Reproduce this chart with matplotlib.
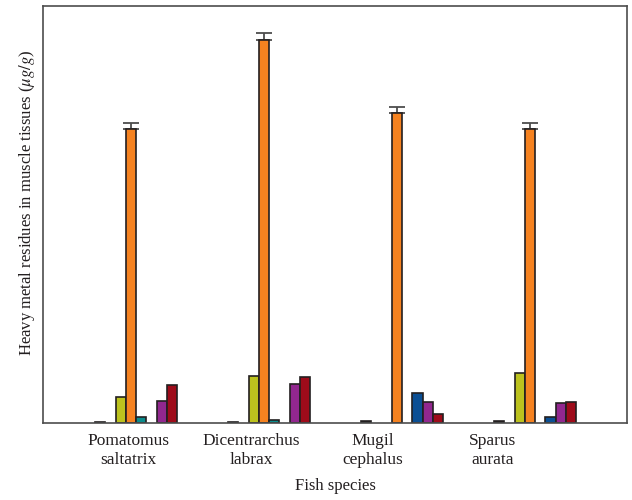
import numpy as np
import matplotlib
matplotlib.use("Agg")
import matplotlib.pyplot as plt

# Datos (unidades aproximadas, eje Y sin marcas)
species = ["Pomatomus\nsaltatrix", "Dicentrarchus\nlabrax", "Mugil\ncephalus", "Sparus\naurata"]
series_names = ["M1", "M2", "M3", "M4", "M5", "M6", "M7", "M8"]
series_colors = ["#231f20", "#808080", "#bcc21e", "#f58220", "#0a8c8c", "#0b4f94", "#92278f", "#9e0b1a"]

m1 = [0.10, 0.10, 0.20, 0.20]
m2 = [np.nan, np.nan, np.nan, np.nan]
m3 = [3.15, 5.67, np.nan, 5.96]
m4 = [35.3, 45.9, 37.2, 35.3]
m4_err = [0.67, 0.92, 0.72, 0.72]
m5 = [0.76, 0.36, np.nan, np.nan]
m6 = [np.nan, np.nan, 3.63, 0.76]
m7 = [2.67, 4.68, 2.52, 2.36]
m8 = [4.52, 5.55, 1.04, 2.48]

valores = [m1, m2, m3, m4, m5, m6, m7, m8]
errores = [None, None, None, m4_err, None, None, None, None]

plt.rcParams["font.family"] = ["Liberation Serif", "DejaVu Serif"]
plt.rcParams["mathtext.fontset"] = "stix"

fig = plt.figure(figsize=(6.32, 5.0), dpi=100)
ax = fig.add_axes([0.068, 0.154, 0.924, 0.834])

x = np.arange(len(species))
ancho = 0.077
n = len(valores)
for i, (vals, err) in enumerate(zip(valores, errores)):
    pos = x + (i - (n - 1) / 2) * ancho
    ax.bar(pos, vals, width=ancho, color=series_colors[i], edgecolor="#231f20",
           linewidth=1.2, label=series_names[i], zorder=2)
    if err is not None:
        ax.errorbar(pos, vals, yerr=[np.zeros(len(err)), err], fmt="none",
                    ecolor="#4d4d4d", elinewidth=1.3, capsize=5.5, capthick=1.3, zorder=1)

ax.set_xlim(-0.70, 3.69)
ax.set_ylim(0, 50)
ax.set_yticks([])

# las etiquetas del original no estan centradas en los grupos
ax.set_xticks([-0.06, 0.865, 1.78, 2.68])
ax.set_xticklabels(species, fontsize=12.5, color="#231f20", linespacing=1.3)
ax.tick_params(axis="x", length=0, pad=7)

for s in ax.spines.values():
    s.set_color("#4d4d4d")
    s.set_linewidth(1.2)

ax.set_xlabel("Fish species", fontsize=12, color="#231f20", labelpad=7)
ax.set_ylabel(r"Heavy metal residues in muscle tissues ($\mu g/g$)", fontsize=12,
              color="#231f20")
ax.yaxis.set_label_coords(-0.010, 0.527)

fig.savefig("out.png", dpi=100)
